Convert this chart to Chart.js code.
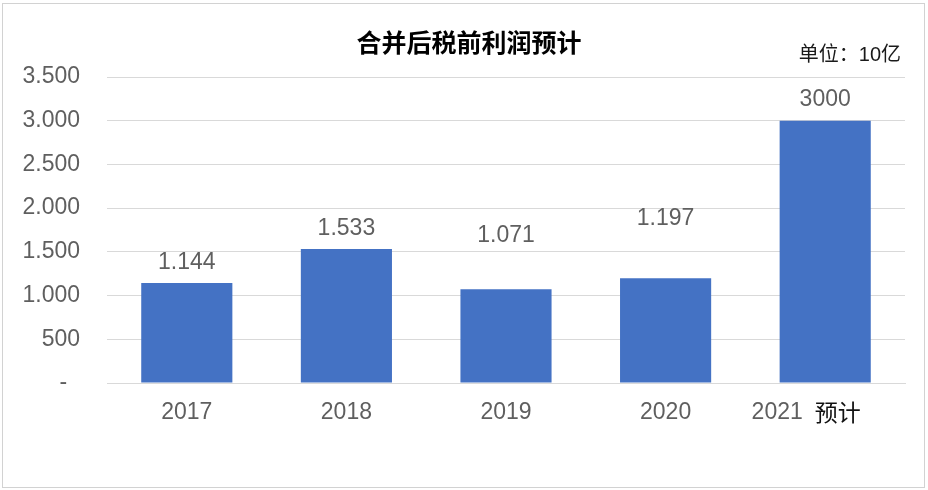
<!DOCTYPE html>
<html>
<head>
<meta charset="utf-8">
<script src="https://cdn.jsdelivr.net/npm/chart.js@4.4.0/dist/chart.umd.min.js"></script>
<style>
    html, body { margin: 0; padding: 0; background: #fff; }
    #wrap { position: relative; width: 928px; height: 490px; overflow: hidden; }
    #frame { position: absolute; left: 2px; top: 3px; width: 921px; height: 483px; border: 1px solid #d2d2d2; pointer-events: none; }
</style>
</head>
<body>
<div id="wrap">
    <canvas id="profitChart" width="928" height="490"></canvas>
    <div id="frame"></div>
</div>
<script>
const years = ['2017', '2018', '2019', '2020', '2021 预计'];
const profit = [1144, 1533, 1071, 1197, 3000];
const profitLabels = ['1.144', '1.533', '1.071', '1.197', '3000'];
const yTicks = [0, 500, 1000, 1500, 2000, 2500, 3000, 3500];
const chartTitle = '合并后税前利润预计';
const unitText = '单位：10亿';

const FONT = '"Liberation Sans", "Noto Sans CJK SC", sans-serif';
const GREY = '#5f5f5f';

// thousands with a dot, zero shown as a dash (like the Excel source)
function fmtTick(v) {
    if (v === 0) return '-  ';
    return v.toLocaleString('de-DE');
}

const textPlugin = {
    id: 'textPlugin',
    afterDatasetsDraw(chart, args, opts) {
        const ctx = chart.ctx;
        const bars = chart.getDatasetMeta(0).data;
        ctx.save();
        ctx.font = '23px ' + FONT;
        ctx.fillStyle = GREY;
        ctx.textAlign = 'center';
        ctx.textBaseline = 'alphabetic';
        bars.forEach((bar, i) => {
            ctx.fillText(profitLabels[i], bar.x, bar.y - opts.offsets[i] + 8);
        });
        ctx.restore();
    },
    afterDraw(chart, args, opts) {
        const ctx = chart.ctx;
        ctx.save();
        ctx.fillStyle = '#000';
        ctx.textBaseline = 'middle';
        ctx.font = 'bold 25px ' + FONT;
        ctx.textAlign = 'center';
        ctx.fillText(chartTitle, 469, 45);

        ctx.font = '20px ' + FONT;
        ctx.fillStyle = '#1a1a1a';
        ctx.textAlign = 'right';
        ctx.fillText(unitText, 901, 55);

        // category labels: year part grey, "预计" black
        const xs = chart.scales.x;
        const y = xs.bottom - 107 + 36;
        ctx.font = '23px ' + FONT;
        ctx.textAlign = 'left';
        ctx.textBaseline = 'alphabetic';
        years.forEach((txt, i) => {
            const parts = txt.split(' ');
            const gap = 12;
            let w = 0;
            parts.forEach((p, k) => { w += ctx.measureText(p).width + (k ? gap : 0); });
            let x = xs.getPixelForTick(i) - w / 2 + opts.shift[i];
            parts.forEach((p, k) => {
                ctx.fillStyle = k === 0 ? GREY : '#111';
                ctx.fillText(p, x, y + (k ? 2 : 0));
                x += ctx.measureText(p).width + gap;
            });
        });
        ctx.restore();
    }
};

const ctx = document.getElementById('profitChart').getContext('2d');
new Chart(ctx, {
    type: 'bar',
    data: {
        labels: years,
        datasets: [{
            data: profit,
            backgroundColor: '#4472C4',
            borderWidth: 0,
            categoryPercentage: 1,
            barPercentage: 0.571
        }]
    },
    options: {
        responsive: false,
        animation: false,
        layout: { padding: { top: 77, right: 23, left: 0, bottom: 0 } },
        plugins: {
            legend: { display: false },
            tooltip: { enabled: false },
            title: { display: false },
            textPlugin: { offsets: [22, 22, 55, 61, 23], shift: [0, 0, 0, 0, -19] }
        },
        scales: {
            x: {
                grid: { display: false, drawTicks: false },
                border: { color: '#d9d9d9', width: 1 },
                ticks: { display: false },
                afterFit(scale) { scale.height = 107; }
            },
            y: {
                min: 0,
                max: 3500,
                afterBuildTicks(scale) { scale.ticks = yTicks.map(v => ({ value: v })); },
                grid: { color: '#d9d9d9', drawTicks: false },
                border: { display: false },
                ticks: {
                    color: GREY,
                    font: { size: 23, family: FONT },
                    padding: 27,
                    callback: v => fmtTick(v)
                },
                afterFit(scale) { scale.width = 107; }
            }
        }
    },
    plugins: [textPlugin]
});
</script>
</body>
</html>
